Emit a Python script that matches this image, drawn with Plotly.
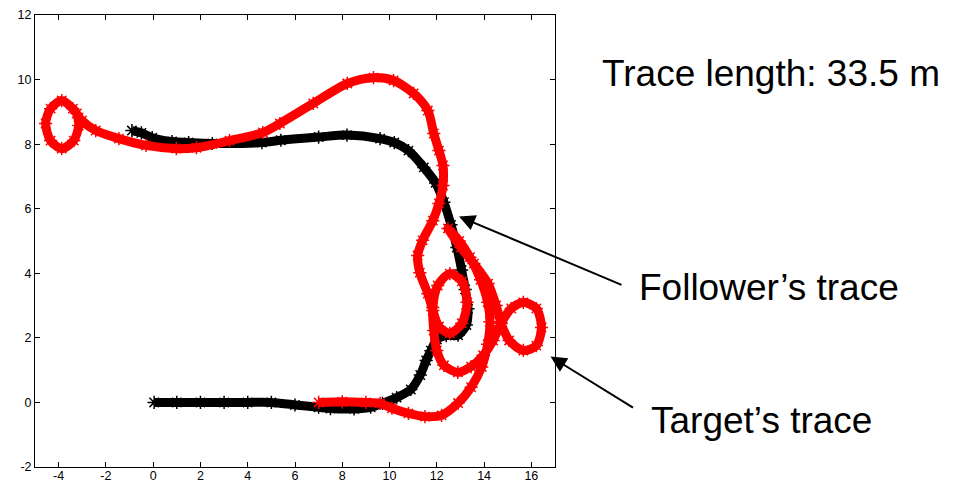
import plotly.graph_objects as go

# Follower's trace (black)
follower_x = [0.04, 1.0, 2.0, 3.0, 4.0, 5.0, 6.0, 7.0, 7.5, 8.5, 9.2, 9.7, 10.3, 10.9, 11.3,
              11.55, 11.75, 12.0, 12.4, 12.9, 13.25, 13.32, 13.2, 13.05, 12.85, 12.6, 12.3,
              11.95, 11.45, 10.8, 10.2, 9.6, 8.2, 7.0, 5.4, 4.6, 2.5, 1.5, 0.8, -0.04, -0.5, -0.9]
follower_y = [0.0, 0.0, 0.0, 0.0, 0.0, 0.0, -0.08, -0.15, -0.19, -0.2, -0.15, -0.03, 0.15, 0.4, 0.85,
              1.3, 1.6, 1.95, 2.07, 2.08, 2.4, 2.9, 3.5, 4.1, 4.8, 5.5, 6.2,
              6.8, 7.28, 7.8, 8.05, 8.17, 8.28, 8.22, 8.12, 8.05, 8.02, 8.05, 8.08, 8.2, 8.35, 8.42]

# Target's trace (red)
target_x = [7.0, 8.0, 9.0, 9.6, 10.1, 10.8, 11.5, 12.2, 12.9, 13.45, 13.9, 14.15, 14.25, 14.15,
            13.85, 13.4, 12.95, 12.47,
            13.02, 13.57, 14.17, 14.51, 14.72, 15.06, 15.66, 16.21, 16.43, 16.21, 15.66, 15.15,
            14.72, 14.38, 13.96, 13.45, 12.89, 12.3, 12.0,
            11.87, 11.83, 12.04, 12.55, 13.06, 13.28, 13.06, 12.55, 12.09, 11.83,
            11.62, 11.28, 11.19, 11.4, 11.83, 12.09, 12.26, 12.26, 12.09, 11.87, 11.62, 11.02,
            10.17, 9.32, 8.21, 6.77, 5.36, 4.64, 3.23, 1.83, 0.98, -0.3, -1.45, -2.43, -3.02,
            -3.4, -3.87, -4.34, -4.55, -4.34, -3.87, -3.36, -3.15, -3.23]
target_y = [0.0, 0.02, 0.0, -0.03, -0.18, -0.34, -0.44, -0.4, -0.02, 0.47, 1.1, 1.8, 2.5, 3.1,
            3.8, 4.5, 5.0, 5.39,
            4.8, 4.3, 3.68, 3.0, 2.45, 1.92, 1.61, 1.76, 2.32, 2.91, 3.1, 2.91,
            2.45, 1.92, 1.46, 1.11, 0.93, 1.15, 1.61,
            2.23, 2.94, 3.62, 3.99, 3.75, 3.1, 2.45, 2.14, 2.35, 2.85,
            3.37, 4.02, 4.55, 5.02, 5.63, 6.16, 6.72, 7.34, 7.8, 8.33, 9.04, 9.57,
            9.97, 10.06, 9.88, 9.26, 8.64, 8.36, 8.11, 7.89, 7.86, 7.96, 8.17, 8.42, 8.73,
            9.1, 9.35, 9.1, 8.64, 8.11, 7.86, 8.11, 8.58, 8.95]

x_ticks = [-4, -2, 0, 2, 4, 6, 8, 10, 12, 14, 16]
y_ticks = [-2, 0, 2, 4, 6, 8, 10, 12]

trace_length_label = "Trace length: 33.5 m"
follower_label = "Follower\u2019s trace"
target_label = "Target\u2019s trace"

fig = go.Figure()
fig.add_trace(go.Scatter(
    x=follower_x, y=follower_y, mode="lines+markers",
    line=dict(color="black", width=9, shape="spline", smoothing=0.8),
    marker=dict(symbol="asterisk-open", size=11, color="black", line=dict(width=1.5, color="black")),
    showlegend=False, hoverinfo="skip"))
fig.add_trace(go.Scatter(
    x=target_x, y=target_y, mode="lines+markers",
    line=dict(color="#ff0000", width=9, shape="spline", smoothing=0.8),
    marker=dict(symbol="asterisk-open", size=11, color="#ff0000", line=dict(width=1.5, color="#ff0000")),
    showlegend=False, hoverinfo="skip"))

L, R, T, B = 35.4, 554.6, 15.0, 467.0
W, H = 954, 485

def px(xp):
    return (xp - L) / (R - L)

def py(yp):
    return (B - yp) / (B - T)

axis_common = dict(showgrid=False, zeroline=False, showline=True, linecolor="black", linewidth=1,
                   mirror="ticks", ticks="inside", ticklen=5, tickcolor="black", tickwidth=1,
                   automargin=False,
                   tickfont=dict(family="Liberation Sans, Arial", size=12.5, color="black"))

fig.update_layout(
    width=W, height=H,
    margin=dict(l=L, r=W - R, t=T, b=H - B, pad=0),
    plot_bgcolor="white", paper_bgcolor="white",
    xaxis=dict(range=[-5, 17], tickvals=x_ticks, ticktext=[str(v) for v in x_ticks],
               ticklabelstandoff=-3, **axis_common),
    yaxis=dict(range=[-2, 12], tickvals=y_ticks, ticktext=[str(v) for v in y_ticks], **axis_common),
)

big_font = dict(family="Liberation Sans, Arial", size=37, color="black")
annotations = [
    dict(text=trace_length_label, xref="paper", yref="paper", x=px(600), y=py(73),
         xanchor="left", yanchor="middle", showarrow=False, font=big_font),
    dict(text=follower_label, xref="paper", yref="paper", x=px(636), y=py(287),
         xanchor="left", yanchor="middle", showarrow=False, font=big_font),
    dict(text=target_label, xref="paper", yref="paper", x=px(648), y=py(420),
         xanchor="left", yanchor="middle", showarrow=False, font=big_font),
    dict(text="", xref="x", yref="y", x=12.94, y=5.76, ax=164, ay=69, axref="pixel", ayref="pixel",
         showarrow=True, arrowhead=2, arrowsize=1.6, arrowwidth=2, arrowcolor="black", standoff=0),
    dict(text="", xref="x", yref="y", x=16.81, y=1.42, ax=84, ay=52, axref="pixel", ayref="pixel",
         showarrow=True, arrowhead=2, arrowsize=1.6, arrowwidth=2, arrowcolor="black", standoff=0),
]
fig.update_layout(annotations=annotations)

fig.write_html("out.html", config={"displayModeBar": False},
               post_script="document.body.style.margin='0';document.body.style.overflow='hidden';")
